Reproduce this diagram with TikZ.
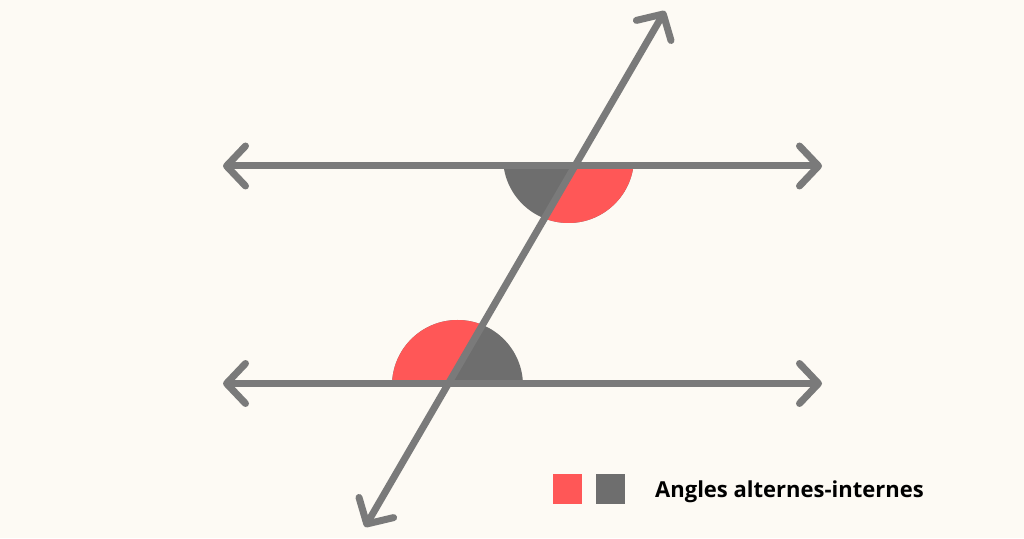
\documentclass[tikz,border=0pt]{standalone}
\usepackage{fontspec}
\setmainfont{Open Sans}
\usetikzlibrary{arrows.meta}
\definecolor{paper}{HTML}{FDFAF4}
\definecolor{ray}{HTML}{7A7A7A}
\definecolor{darkfill}{HTML}{6E6E6E}
\definecolor{warm}{HTML}{FF5757}
\tikzset{
    every node/.style={inner sep=0pt, font=\fontsize{22}{26}\selectfont\bfseries}
}
\tikzset{
    line/.style={draw=ray, line width=7pt, line cap=round,
    	{Straight Barb[length=19pt,width=40pt,round]}-{Straight Barb[length=19pt,width=40pt,round]}}
}
\tikzset{
	swatch/.style={minimum width=29pt, minimum height=30pt}
}

\begin{document}
\begin{tikzpicture}[x=1pt, y=1pt]
	\fill[paper] (0,0) rectangle (1024,538);
	\coordinate (l1) at (223,372); \coordinate (r1) at (822,372);
	\coordinate (l2) at (223,154.5); \coordinate (r2) at (822,154.5);
	\coordinate (t1) at (365,11); \coordinate (t2) at (665,527);
	
	% upper angles
	\begin{scope}
		\clip (0,0) rectangle (1024,372);
		\fill[darkfill] (568.5,380.5) circle[radius=65.5];
		\clip (t1) -- (t2) -- (1024,527) -- (1024,11) -- cycle;
		\fill[warm] (568.5,380.5) circle[radius=65.5];
	\end{scope}
	% lower angles
	\begin{scope}
		\clip (0,154.5) rectangle (1024,538);
		\fill[darkfill] (457.5,152.5) circle[radius=65.5];
		\clip (t1) -- (t2) -- (0,527) -- (0,11) -- cycle;
		\fill[warm] (457.5,152.5) circle[radius=65.5];
	\end{scope}
	
	\draw[line] (l1) -- (r1); \draw[line] (l2) -- (r2);
	\draw[line] (t1) -- (t2);
	
	\node (red) [swatch, fill=warm] at (567.5,49) {};
	\node (gray) [swatch, fill=darkfill] at (610,49) {};
	\node (txt) [anchor=base west] at (655,41) {Angles alternes-internes};
\end{tikzpicture}
\end{document}
